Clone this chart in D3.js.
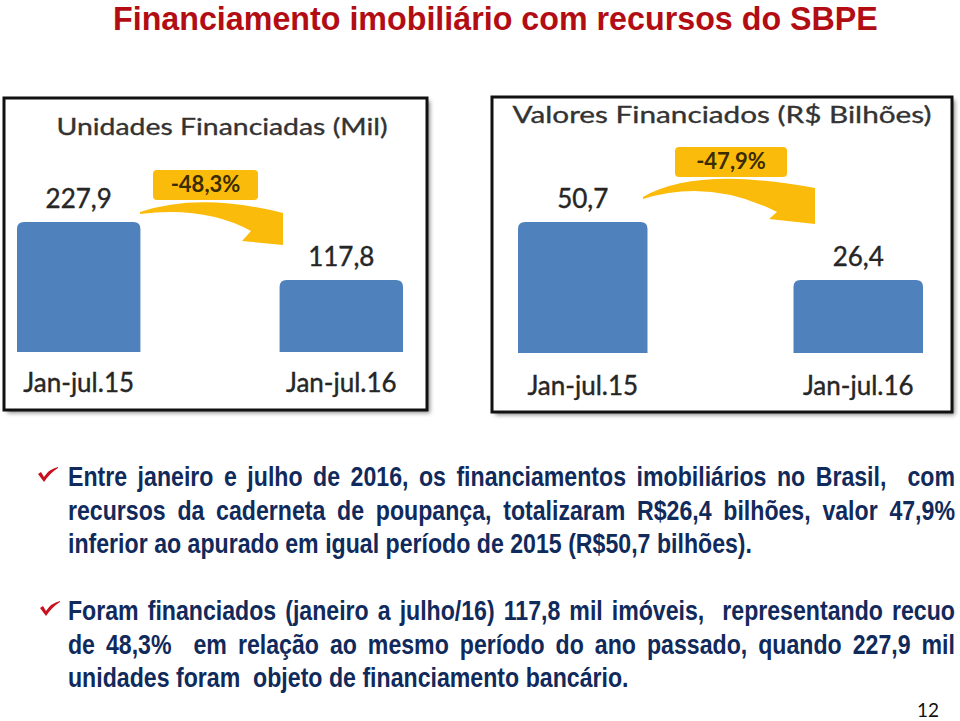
<!DOCTYPE html>
<html>
<head>
<meta charset="utf-8">
<title>Financiamento SBPE</title>
<script src="https://cdn.jsdelivr.net/npm/d3@7"></script>
<style>
  body { margin: 0; background: #fff; }
  svg { display: block; }
</style>
</head>
<body>
<svg width="960" height="721"></svg>
<script>
// data
var categories = ["Jan-jul.15", "Jan-jul.16"];
var unidades = [227.9, 117.8];      // mil unidades
var valores = [50.7, 26.4];         // R$ bilhões
var variacoes = ["-48,3%", "-47,9%"];
var panelTitles = ["Unidades Financiadas (Mil)", "Valores Financiados (R$ Bilhões)"];
var mainTitle = "Financiamento imobiliário com recursos do SBPE";
var paragraph1 = [
  "Entre janeiro e julho de 2016, os financiamentos imobiliários no Brasil,  com",
  "recursos da caderneta de poupança, totalizaram R$26,4 bilhões, valor 47,9%",
  "inferior ao apurado em igual período de 2015 (R$50,7 bilhões)."
];
var paragraph2 = [
  "Foram financiados (janeiro a julho/16) 117,8 mil imóveis,  representando recuo",
  "de 48,3%  em relação ao mesmo período do ano passado, quando 227,9 mil",
  "unidades foram  objeto de financiamento bancário."
];
var pageNumber = "12";

var svg = d3.select("svg");
var ptBR = d3.formatLocale({ decimal: ",", thousands: ".", grouping: [3], currency: ["R$", ""] });
var fmt = ptBR.format(".1f");

var chartFont = "Lato, 'Open Sans', sans-serif";
var slideFont = "'Liberation Sans Narrow', 'Arial Narrow', 'Liberation Sans', Arial, sans-serif";

var defs = svg.append("defs");
defs.append("filter").attr("id", "shadow")
  .attr("x", "-5%").attr("y", "-5%").attr("width", "110%").attr("height", "110%")
  .append("feGaussianBlur").attr("stdDeviation", 2);

// main title, squeezed to the width it has on the slide
var title = svg.append("text")
  .attr("x", 113).attr("y", 30)
  .attr("font-family", slideFont)
  .attr("font-weight", "bold")
  .attr("font-size", 34)
  .attr("fill", "#b30d14")
  .text(mainTitle);
var tw = title.node().getComputedTextLength();
title.attr("transform", "translate(113,0) scale(" + (765 / tw) + ",1) translate(-113,0)");

// the two chart panels
var panels = [
  {
    values: unidades, title: panelTitles[0], change: variacoes[0],
    frame: { x: 4, y: 98, w: 423, h: 312 },
    xRange: [17, 403], yRange: [352, 222], yMin: -19,
    titleX: 222, titleY: 135, titleW: 331, catY: 392,
    badge: { x: 153, y: 170, w: 105, h: 30 },
    arrow: "M140,212 Q200,192 283,213 L283,245 L242,241 L251,231 Q205,206 140,214 Z"
  },
  {
    values: valores, title: panelTitles[1], change: variacoes[1],
    frame: { x: 492, y: 97, w: 460, h: 315 },
    xRange: [518, 923], yRange: [353, 222], yMin: -4.2,
    titleX: 722, titleY: 123, titleW: 419, catY: 395,
    badge: { x: 675, y: 147, w: 112, h: 30 },
    arrow: "M643,197 Q697,166 815,188 L815,224 L769,219 L777,212 Q710,178 643,199 Z"
  }
];

function topRounded(x, y, w, h, r) {
  return "M" + x + "," + (y + h) +
    "V" + (y + r) +
    "Q" + x + "," + y + " " + (x + r) + "," + y +
    "H" + (x + w - r) +
    "Q" + (x + w) + "," + y + " " + (x + w) + "," + (y + r) +
    "V" + (y + h) + "Z";
}

panels.forEach(function(p) {
  var g = svg.append("g");
  var f = p.frame;

  g.append("rect")
    .attr("x", f.x + 3).attr("y", f.y + 3)
    .attr("width", f.w).attr("height", f.h)
    .attr("fill", "#8c8c8c")
    .attr("filter", "url(#shadow)");
  g.append("rect")
    .attr("x", f.x).attr("y", f.y)
    .attr("width", f.w).attr("height", f.h)
    .attr("fill", "#fff")
    .attr("stroke", "#111")
    .attr("stroke-width", 3);

  g.append("text")
    .attr("x", p.titleX).attr("y", p.titleY)
    .attr("text-anchor", "middle")
    .attr("font-family", chartFont)
    .attr("font-size", 24)
    .attr("fill", "#333")
    .attr("stroke", "#333")
    .attr("stroke-width", 0.35)
    .attr("textLength", p.titleW)
    .attr("lengthAdjust", "spacingAndGlyphs")
    .text(p.title);

  var x = d3.scaleBand().domain(categories).range(p.xRange).paddingInner(0.53).paddingOuter(0);
  var y = d3.scaleLinear().domain([p.yMin, d3.max(p.values)]).range(p.yRange);

  g.selectAll(".bar")
    .data(p.values)
    .enter()
    .append("path")
    .attr("class", "bar")
    .attr("fill", "#4f81bd")
    .attr("d", function(d, i) {
      return topRounded(x(categories[i]), y(d), x.bandwidth(), y(p.yMin) - y(d), 7);
    });

  g.selectAll(".val")
    .data(p.values)
    .enter()
    .append("text")
    .attr("class", "val")
    .attr("x", function(d, i) { return x(categories[i]) + x.bandwidth() / 2; })
    .attr("y", function(d) { return y(d) - 14; })
    .attr("text-anchor", "middle")
    .attr("font-family", chartFont)
    .attr("font-size", 26)
    .attr("fill", "#262626")
    .attr("stroke", "#262626")
    .attr("stroke-width", 0.4)
    .text(function(d) { return fmt(d); });

  g.selectAll(".cat")
    .data(categories)
    .enter()
    .append("text")
    .attr("class", "cat")
    .attr("x", function(d) { return x(d) + x.bandwidth() / 2; })
    .attr("y", p.catY)
    .attr("text-anchor", "middle")
    .attr("font-family", chartFont)
    .attr("font-size", 26)
    .attr("fill", "#262626")
    .attr("stroke", "#262626")
    .attr("stroke-width", 0.4)
    .text(function(d) { return d; });

  // change arrow and badge
  g.append("path")
    .attr("d", p.arrow)
    .attr("fill", "#fbbb0a");
  g.append("rect")
    .attr("x", p.badge.x).attr("y", p.badge.y)
    .attr("width", p.badge.w).attr("height", p.badge.h)
    .attr("rx", 4)
    .attr("fill", "#fbbb0a");
  g.append("text")
    .attr("x", p.badge.x + p.badge.w / 2)
    .attr("y", p.badge.y + 22)
    .attr("text-anchor", "middle")
    .attr("font-family", chartFont)
    .attr("font-weight", "bold")
    .attr("font-size", 22)
    .attr("fill", "#3a2c00")
    .text(p.change);
});

// body text, justified by hand
var bodyLeft = 68, bodyRight = 955, bodySize = 27;
var measure = svg.append("text")
  .attr("font-family", slideFont)
  .attr("font-weight", "bold")
  .attr("font-size", bodySize)
  .style("white-space", "pre");
function widthOf(s) {
  measure.text(s);
  return measure.node().getComputedTextLength();
}
var spaceW = widthOf("n n") - widthOf("nn");
var sx = (752 - bodyLeft) / widthOf(paragraph1[2]);
var target = (bodyRight - bodyLeft) / sx;

function drawParagraph(lines, baselines) {
  lines.forEach(function(line, li) {
    var tokens = line.split(" ");
    var words = [], gaps = [], units = 0;
    tokens.forEach(function(t) {
      if (t === "") { units++; return; }
      if (words.length) gaps.push(units);
      words.push(t);
      units = 1;
    });
    var widths = words.map(widthOf);
    var total = d3.sum(widths);
    var gapUnits = d3.sum(gaps);
    var last = li === lines.length - 1;
    var unit = last ? spaceW : (target - total) / gapUnits;

    var gl = svg.append("g")
      .attr("transform", "translate(" + bodyLeft + "," + baselines[li] + ") scale(" + sx + ",1)");
    var pos = 0;
    var xs = words.map(function(w, i) {
      var p0 = pos;
      pos += widths[i] + (i < gaps.length ? gaps[i] * unit : 0);
      return p0;
    });
    gl.selectAll("text")
      .data(words)
      .enter()
      .append("text")
      .attr("x", function(d, i) { return xs[i]; })
      .attr("font-family", slideFont)
      .attr("font-weight", "bold")
      .attr("font-size", bodySize)
      .attr("fill", "#112a5c")
      .text(function(d) { return d; });
  });
}
drawParagraph(paragraph1, [486, 520, 553]);
drawParagraph(paragraph2, [620, 654, 687]);
measure.remove();

// red check marks
function check(x0, y0) {
  svg.append("path")
    .attr("d", "M" + x0 + "," + (y0 + 7) +
      " L" + (x0 + 3) + "," + (y0 + 5) +
      " L" + (x0 + 6) + "," + (y0 + 10) +
      " Q" + (x0 + 11) + "," + (y0 + 2) + " " + (x0 + 20) + "," + y0 +
      " L" + (x0 + 20) + "," + (y0 + 1) +
      " Q" + (x0 + 12) + "," + (y0 + 6) + " " + (x0 + 6) + "," + (y0 + 15) +
      " Z")
    .attr("fill", "#c8101e");
}
check(38, 467);
check(40, 601);

svg.append("text")
  .attr("x", 928).attr("y", 717)
  .attr("text-anchor", "middle")
  .attr("font-family", chartFont)
  .attr("font-size", 19)
  .attr("fill", "#111")
  .text(pageNumber);
</script>
</body>
</html>
